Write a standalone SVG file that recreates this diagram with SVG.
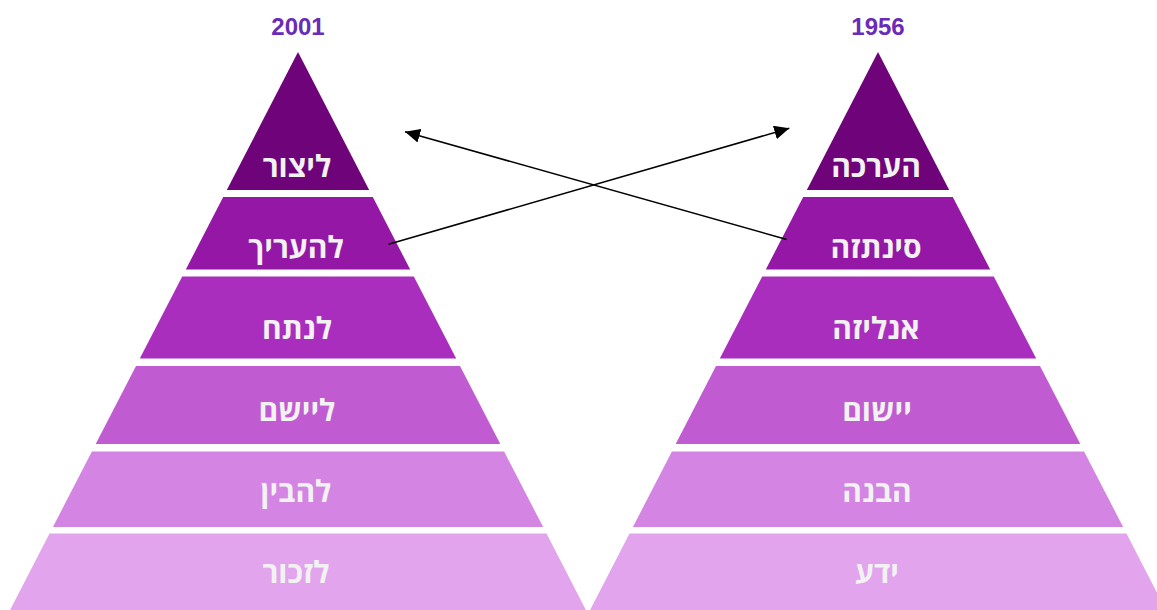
<svg xmlns="http://www.w3.org/2000/svg" width="1157" height="610" viewBox="0 0 1157 610">
<style>
.t{font-family:"Open Sans","DejaVu Sans",sans-serif;font-weight:bold;font-size:30px;fill:#F2F2F2;text-anchor:middle}
.yr{font-family:"Liberation Sans",Arial,sans-serif;font-weight:bold;font-size:24px;fill:#6A2BB8;text-anchor:middle}
.c1{fill:#6E037A}.c2{fill:#9417A6}.c3{fill:#AA2EBD}.c4{fill:#C15BD1}.c5{fill:#D484E2}.c6{fill:#E2A4EC}
.ln{stroke:#000;stroke-width:1.5;fill:none;marker-end:url(#ah)}
</style>
<defs>
<marker id="ah" markerUnits="userSpaceOnUse" markerWidth="16" markerHeight="14" refX="15" refY="7" orient="auto">
<path d="M0,0 L15,7 L0,14 z" fill="#000"/>
</marker>
<polygon id="p1" points="298,52 369.2,190 226.8,190"/>
<polygon id="p2" points="223.2,197 372.8,197 410.2,269.5 185.8,269.5"/>
<polygon id="p3" points="182.2,276.5 413.8,276.5 456.2,358.5 139.8,358.5"/>
<polygon id="p4" points="136,366 460,366 500.3,444 95.7,444"/>
<polygon id="p5" points="91.9,451.5 504.1,451.5 543.1,527 52.9,527"/>
<polygon id="p6" points="49.5,533.5 546.5,533.5 585.9,610 10.1,610"/>
</defs>
<rect width="1157" height="610" fill="#fff"/>
<g id="pyramid-2001">
<text class="yr" x="298" y="35">2001</text>
<g id="l-create"><use href="#p1" class="c1"/><text class="t" x="297" y="177">ליצור</text></g>
<g id="l-evaluate"><use href="#p2" class="c2"/><text class="t" x="296" y="258">להעריך</text></g>
<g id="l-analyze"><use href="#p3" class="c3"/><text class="t" x="297" y="339">לנתח</text></g>
<g id="l-apply"><use href="#p4" class="c4"/><text class="t" x="297" y="421">ליישם</text></g>
<g id="l-understand"><use href="#p5" class="c5"/><text class="t" x="296" y="502">להבין</text></g>
<g id="l-remember"><use href="#p6" class="c6"/><text class="t" x="296" y="583">לזכור</text></g>
</g>
<g id="pyramid-1956" transform="translate(580,0)">
<text class="yr" x="298" y="35">1956</text>
<g id="r-evaluation"><use href="#p1" class="c1"/><text class="t" x="296" y="177">הערכה</text></g>
<g id="r-synthesis"><use href="#p2" class="c2"/><text class="t" x="296" y="258">סינתזה</text></g>
<g id="r-analysis"><use href="#p3" class="c3"/><text class="t" x="296" y="339">אנליזה</text></g>
<g id="r-application"><use href="#p4" class="c4"/><text class="t" x="297" y="421">יישום</text></g>
<g id="r-comprehension"><use href="#p5" class="c5"/><text class="t" x="297" y="502">הבנה</text></g>
<g id="r-knowledge"><use href="#p6" class="c6"/><text class="t" x="297" y="583">ידע</text></g>
</g>
<g id="connectors">
<line class="ln" x1="388.5" y1="244.3" x2="789.3" y2="128.3"/>
<line class="ln" x1="786.7" y1="239.5" x2="405" y2="131.7"/>
</g>
</svg>
